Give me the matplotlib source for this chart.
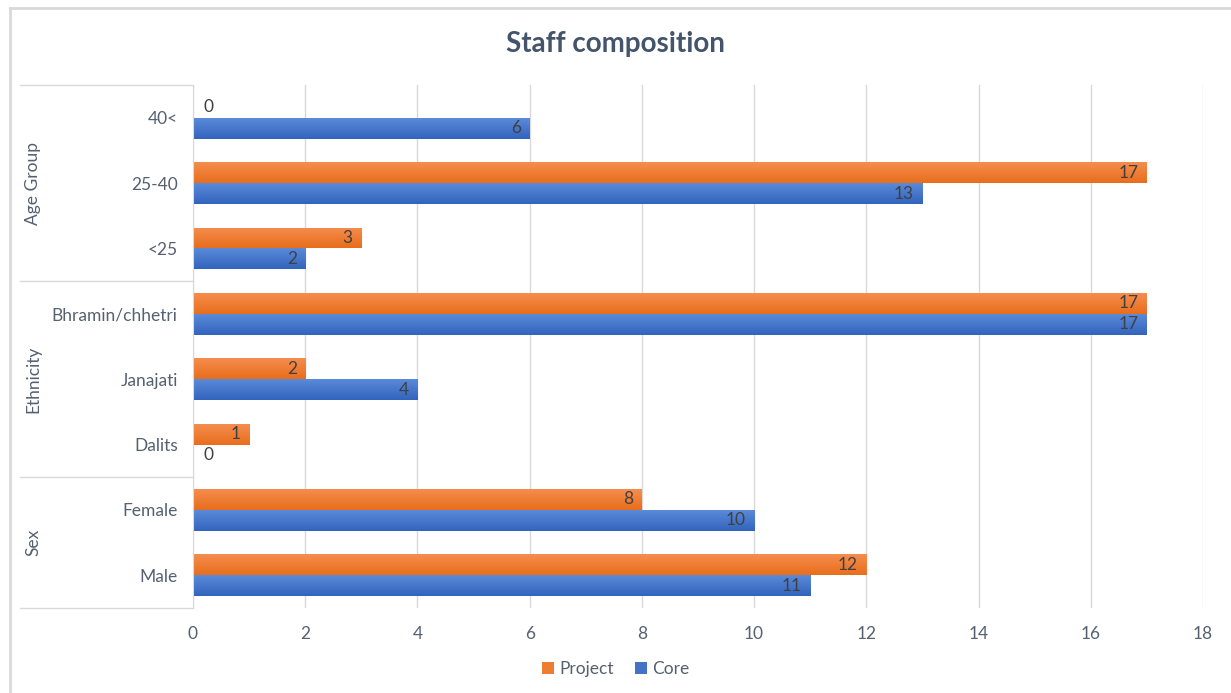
import numpy as np
import matplotlib
matplotlib.use("Agg")
import matplotlib.pyplot as plt
from matplotlib.patches import Patch
from matplotlib.lines import Line2D
from matplotlib.colors import LinearSegmentedColormap
import matplotlib.transforms as mtransforms

# data, bottom to top
categories = ["Male", "Female", "Dalits", "Janajati", "Bhramin/chhetri", "<25", "25-40", "40<"]
project = [12, 8, 1, 2, 17, 3, 17, 0]
core = [11, 10, 0, 4, 17, 2, 13, 6]
groups = ["Sex", "Ethnicity", "Age Group"]
group_sizes = [2, 3, 3]

text_col = "#556070"
grid_col = "#D9D9D9"
plt.rcParams["font.family"] = ["Lato", "DejaVu Sans"]

fig = plt.figure(figsize=(12.31, 6.93), dpi=100)
ax = fig.add_axes([193 / 1231, 1 - 608 / 693, 1010 / 1231, 523 / 693])

y = np.arange(len(categories))
h = 0.32


def gradient_bars(ys, vals, top, bottom):
    cmap = LinearSegmentedColormap.from_list("g", [bottom, top])
    grad = np.linspace(0, 1, 64).reshape(-1, 1)
    bars = ax.barh(ys, vals, height=h, color="none", edgecolor="none")
    for b in bars:
        x0, y0 = b.get_x(), b.get_y()
        w, hh = b.get_width(), b.get_height()
        if w <= 0:
            continue
        im = ax.imshow(grad, cmap=cmap, aspect="auto", origin="lower",
                       extent=[x0, x0 + w, y0, y0 + hh], zorder=2)
        im.set_clip_path(b)
    return bars


gradient_bars(y + h / 2, project, "#F58D4F", "#E86E1C")
gradient_bars(y - h / 2, core, "#5A8AD8", "#3264BE")

# data labels
for yy, v in zip(y + h / 2, project):
    if v == 0:
        ax.text(0.18, yy, "0", ha="left", va="center", fontsize=12.5, color="#404040")
    else:
        ax.text(v - 0.15, yy, str(v), ha="right", va="center", fontsize=12.5, color="#404040", zorder=3)
for yy, v in zip(y - h / 2, core):
    if v == 0:
        ax.text(0.18, yy, "0", ha="left", va="center", fontsize=12.5, color="#404040")
    else:
        ax.text(v - 0.15, yy, str(v), ha="right", va="center", fontsize=12.5, color="#404040", zorder=3)

ax.set_xlim(0, 18)
ax.set_ylim(-0.5, len(categories) - 0.5)
ax.set_xticks(range(0, 19, 2))
ax.set_yticks(y)
ax.set_yticklabels(categories)
ax.tick_params(axis="both", length=0, labelsize=12.5, labelcolor=text_col)
ax.tick_params(axis="y", pad=11)
ax.tick_params(axis="x", pad=13)
ax.xaxis.grid(True, color=grid_col, linewidth=1)
ax.set_axisbelow(True)
for s in ["top", "right", "bottom"]:
    ax.spines[s].set_visible(False)
ax.spines["left"].set_color(grid_col)

# group separators and labels
tr = mtransforms.blended_transform_factory(fig.transFigure, ax.transData)
x_left = 20 / 1231
x_axis = 193 / 1231
start = -0.5
fig.add_artist(Line2D([x_left, x_axis], [start, start], transform=tr, color=grid_col, lw=1))
for name, n in zip(groups, group_sizes):
    end = start + n
    fig.add_artist(Line2D([x_left, x_axis], [end, end], transform=tr, color=grid_col, lw=1))
    fig.text(33 / 1231, (start + end) / 2, name, transform=tr, rotation=90,
             ha="center", va="center", fontsize=12.5, color=text_col)
    start = end

# outer border (left and top)
fig.add_artist(Line2D([10 / 1231, 10 / 1231], [0, 1 - 8 / 693], transform=fig.transFigure, color="#D9D9D9", lw=2))
fig.add_artist(Line2D([10 / 1231, 1], [1 - 8 / 693, 1 - 8 / 693], transform=fig.transFigure, color="#D9D9D9", lw=2))

fig.text(0.5, 1 - 44 / 693, "Staff composition", ha="center", va="center",
         fontsize=20, fontweight="bold", color="#44546A")

handles = [Patch(facecolor="#ED7D31", label="Project"), Patch(facecolor="#4472C4", label="Core")]
fig.legend(handles=handles, loc="center", bbox_to_anchor=(0.5, 1 - 669 / 693), ncol=2,
           frameon=False, fontsize=12.5, labelcolor=text_col, handlelength=0.7,
           handleheight=0.7, handletextpad=0.3, columnspacing=1.2)

fig.savefig("out.png", dpi=100)
